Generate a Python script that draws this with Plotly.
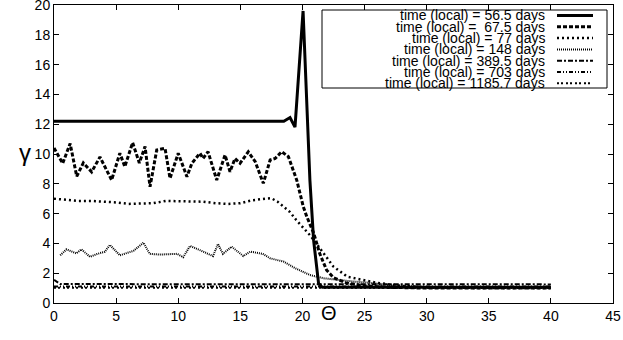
import plotly.graph_objects as go

# curve data
x_56 = [0, 18.5, 19.0, 19.4, 20.05, 20.6, 20.9, 21.3, 21.6, 40]
y_56 = [12.2, 12.2, 12.45, 11.8, 19.6, 8.25, 4.2, 1.3, 1.05, 1.05]

x_67 = [0, 0.7, 1.3, 1.83, 2.36, 3.03, 3.7, 4.64, 5.3, 5.7, 6.33, 6.87, 7.33, 7.73,
        8.27, 8.94, 9.34, 10.0, 10.7, 11.1, 11.75, 12.0, 12.4, 13.1, 13.77, 14.17,
        14.57, 14.98, 15.64, 16.2, 16.85, 17.4, 17.8, 18.33, 18.87, 19.54, 20.07,
        20.35, 20.9, 21.4, 21.95, 22.5, 23.5, 25, 27, 30, 40]
y_67 = [10.4, 9.37, 10.7, 8.5, 9.4, 8.8, 9.8, 8.25, 10.05, 9.15, 10.76, 9.4, 10.5, 7.8,
        10.27, 10.38, 8.37, 10.05, 8.48, 9.38, 10.05, 9.7, 10.15, 8.25, 9.93, 8.81,
        9.7, 9.38, 10.15, 9.48, 8.03, 9.6, 9.7, 10.15, 9.82, 8.25, 6.46,
        5.8, 4.7, 3.3, 2.2, 1.7, 1.35, 1.15, 1.05, 1.0, 1.0]

x_77 = [0, 1, 2, 3, 4, 5, 6, 7, 8, 9, 10, 11, 12, 13, 14, 15, 16, 17, 17.5, 18, 18.5,
        19, 19.5, 20, 20.6, 21.2, 21.7, 22.5, 23.6, 24.9, 26, 28, 30, 35, 40]
y_77 = [7.0, 6.9, 6.85, 6.85, 6.8, 6.75, 6.65, 6.65, 6.7, 6.85, 6.85, 6.8, 6.8, 6.7,
        6.65, 6.7, 6.9, 7.0, 7.03, 6.8, 6.46, 6.1, 5.57, 5.1, 4.56, 3.9, 3.33, 2.44,
        1.77, 1.54, 1.35, 1.15, 1.05, 1.0, 1.0]

x_148 = [0.5, 1.0, 1.8, 2.2, 2.9, 3.5, 4.1, 4.5, 5.3, 6.4, 7.2, 7.7, 8.5, 9.3, 9.9,
         10.4, 10.95, 11.6, 12.2, 12.8, 13.2, 13.6, 14.3, 15.24, 15.8, 16.8, 17.4,
         18.5, 19.5, 20.6, 21.7, 22.8, 24, 25.5, 27, 29, 31, 35, 40]
y_148 = [3.2, 3.6, 3.33, 3.6, 3.1, 3.3, 3.44, 3.9, 3.2, 3.5, 4.05, 3.3, 3.25, 3.3, 3.3,
         3.07, 3.83, 3.6, 3.4, 3.15, 3.96, 3.3, 3.78, 3.15, 3.45, 3.3, 3.0,
         2.77, 2.3, 1.88, 1.66, 1.54, 1.45, 1.35, 1.2, 1.1, 1.05, 1.0, 1.0]

x_389 = [0, 0.5, 40]
y_389 = [1.55, 1.27, 1.25]
x_703 = [0, 40]
y_703 = [1.1, 1.1]
x_1185 = [0, 40]
y_1185 = [1.03, 1.03]

labels = ['time (local) = 56.5 days', 'time (local) =\u00a0 67.5 days',
          'time (local) = 77 days', 'time (local) = 148 days',
          'time (local) = 389.5 days', 'time (local) = 703 days',
          'time (local) = 1185.7 days']

styles = [(3, 'solid'), (3, '4px,2px'), (2.5, '2px,3px'), (2, '1px,1px'),
          (2, '5px,2px,2px,2px'), (2, '4px,2px,1px,2px,1px,2px'), (2, '2px,2px,2px,3px')]

series = [(x_56, y_56), (x_67, y_67), (x_77, y_77), (x_148, y_148),
          (x_389, y_389), (x_703, y_703), (x_1185, y_1185)]

fig = go.Figure()
for (xs, ys), (w, d), name in zip(series, styles, labels):
    fig.add_trace(go.Scatter(x=xs, y=ys, mode='lines', name=name,
                             line=dict(color='black', width=w, dash=d)))

# plot area in pixels (for the hand made legend)
L, R, T, B = 54, 613, 5, 303
def px(p): return (p - L) / (R - L)
def py(p): return (B - p) / (B - T)

shapes = [dict(type='rect', xref='paper', yref='paper', x0=px(322), x1=px(607),
               y0=py(88), y1=py(10), line=dict(color='black', width=1),
               fillcolor='white', layer='above')]
annotations = []
for i, (name, (w, d)) in enumerate(zip(labels, styles)):
    yy = py(15.5 + i * 11.3)
    annotations.append(dict(xref='paper', yref='paper', x=px(547), y=yy, text=name,
                            showarrow=False, xanchor='right', yanchor='middle',
                            font=dict(size=14, color='black')))
    shapes.append(dict(type='line', xref='paper', yref='paper', x0=px(557), x1=px(593),
                       y0=yy, y1=yy, line=dict(color='black', width=w, dash=d),
                       layer='above'))

annotations.append(dict(xref='paper', yref='paper', x=px(329), y=py(326), text='Θ',
                        showarrow=False, font=dict(size=20, color='black')))
annotations.append(dict(xref='paper', yref='paper', x=px(17), y=py(153), text='γ',
                        showarrow=False, font=dict(size=24, color='black')))

axis = dict(showline=True, linecolor='black', linewidth=1, mirror='ticks',
            ticks='inside', ticklen=5, tickcolor='black', showgrid=False,
            zeroline=False, automargin=False, ticklabeloverflow='allow',
            tickfont=dict(size=14, color='black'))

fig.update_layout(width=623, height=340, margin=dict(l=L, r=623 - R, t=T, b=340 - B),
                  plot_bgcolor='white', paper_bgcolor='white', showlegend=False,
                  font=dict(family='Liberation Sans, Arial, sans-serif', color='black'),
                  shapes=shapes, annotations=annotations)
fig.update_xaxes(range=[0, 45], dtick=5, **axis)
fig.update_yaxes(range=[0, 20], dtick=2, **axis)

# the page's default body margin would shift the figure
fig.write_html("out.html", config={'displayModeBar': False},
               post_script="document.body.style.margin='0px';")
